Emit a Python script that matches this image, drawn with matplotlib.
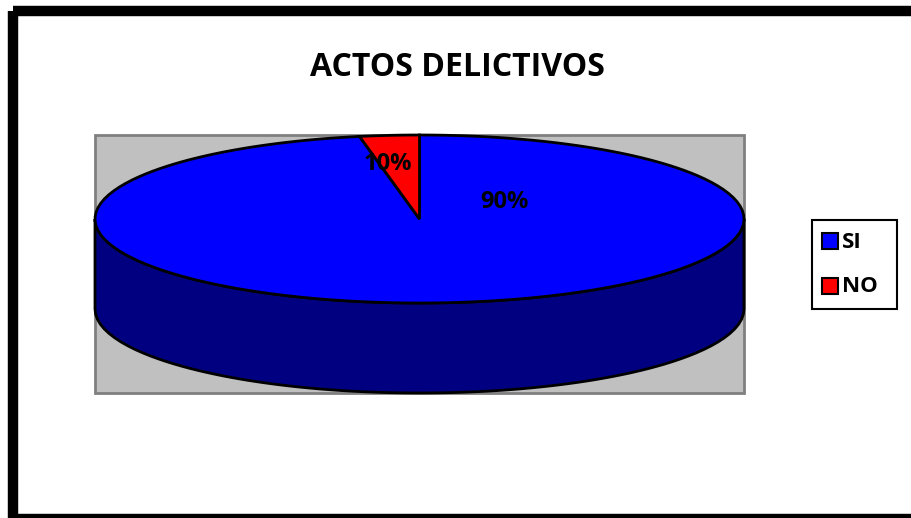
import numpy as np
import matplotlib
matplotlib.use("Agg")
import matplotlib.pyplot as plt
from matplotlib.patches import Polygon, Rectangle

# --- data ---
title = "ACTOS DELICTIVOS"
categories = ["SI", "NO"]
values = [90, 10]
top_colors = ["#0000ff", "#ff0000"]
side_colors = ["#000080", "#800000"]
label_pos = [(504, 202), (388, 164)]   # where excel put the % labels

FONT = "Open Sans"

# --- pie geometry (pixel coords, y down) ---
cx, cy = 419.5, 219.0
a, b = 324.5, 84.0
depth = 90.0
start = 90.0


def rim(phi, dy=0.0):
    # excel measures angles on screen, so a ray at phi hits the ellipse here
    phi = np.radians(phi)
    r = a * b / np.sqrt((b * np.cos(phi)) ** 2 + (a * np.sin(phi)) ** 2)
    return cx + r * np.cos(phi), cy - r * np.sin(phi) + dy


fig = plt.figure(figsize=(9.11, 5.18), dpi=100)
ax = fig.add_axes([0, 0, 1, 1])
ax.set_xlim(0, 911)
ax.set_ylim(518, 0)
ax.axis("off")

# outer frame
ax.add_patch(Rectangle((13, 11), 905, 508, fill=False, ec="black", lw=7.5,
                       joinstyle="miter", clip_on=False, zorder=1))

# grey plot area
ax.add_patch(Rectangle((95, 135), 649, 258, fc="#c0c0c0", ec="#808080", lw=2, zorder=1))

total = float(sum(values))
bounds = []
ang = start
for v in values:
    sweep = v / total * 360.0
    bounds.append((ang - sweep, ang))   # clockwise from the top
    ang -= sweep

# side walls (only the front half is visible)
for (lo, hi), col in zip(bounds, side_colors):
    for shift in (0.0, 360.0, -360.0):
        l2 = max(lo + shift, -180.0)
        h2 = min(hi + shift, 0.0)
        if h2 <= l2:
            continue
        t = np.linspace(l2, h2, 200)
        x1, y1 = rim(t)
        x2, y2 = rim(t[::-1], depth)
        pts = np.column_stack([np.r_[x1, x2], np.r_[y1, y2]])
        ax.add_patch(Polygon(pts, closed=True, fc=col, ec="black", lw=2, zorder=2))

# top faces
for (lo, hi), col in zip(bounds, top_colors):
    t = np.linspace(lo, hi, 400)
    x, y = rim(t)
    pts = np.column_stack([np.r_[cx, x], np.r_[cy, y]])
    ax.add_patch(Polygon(pts, closed=True, fc=col, ec="black", lw=2,
                         joinstyle="miter", zorder=3))

# % labels
for v, (lx, ly) in zip(values, label_pos):
    ax.text(lx, ly, "%d%%" % round(v / total * 100), ha="center", va="center",
            fontsize=17, fontweight="bold", family=FONT, zorder=5)

ax.text(457, 67, title, ha="center", va="center", fontsize=23,
        fontweight="bold", family=FONT)

# legend, drawn by hand to match excel's box
ax.add_patch(Rectangle((812, 220), 85, 89, fill=False, ec="black", lw=1.5, zorder=4))
for i, (name, col) in enumerate(zip(categories, top_colors)):
    yy = 241 + i * 45
    ax.add_patch(Rectangle((822, yy - 8), 16, 16, fc=col, ec="black", lw=1.5, zorder=5))
    ax.text(842, yy + 1, name, ha="left", va="center", fontsize=16,
            fontweight="bold", family=FONT, zorder=5)

plt.savefig("out.png", dpi=100)
